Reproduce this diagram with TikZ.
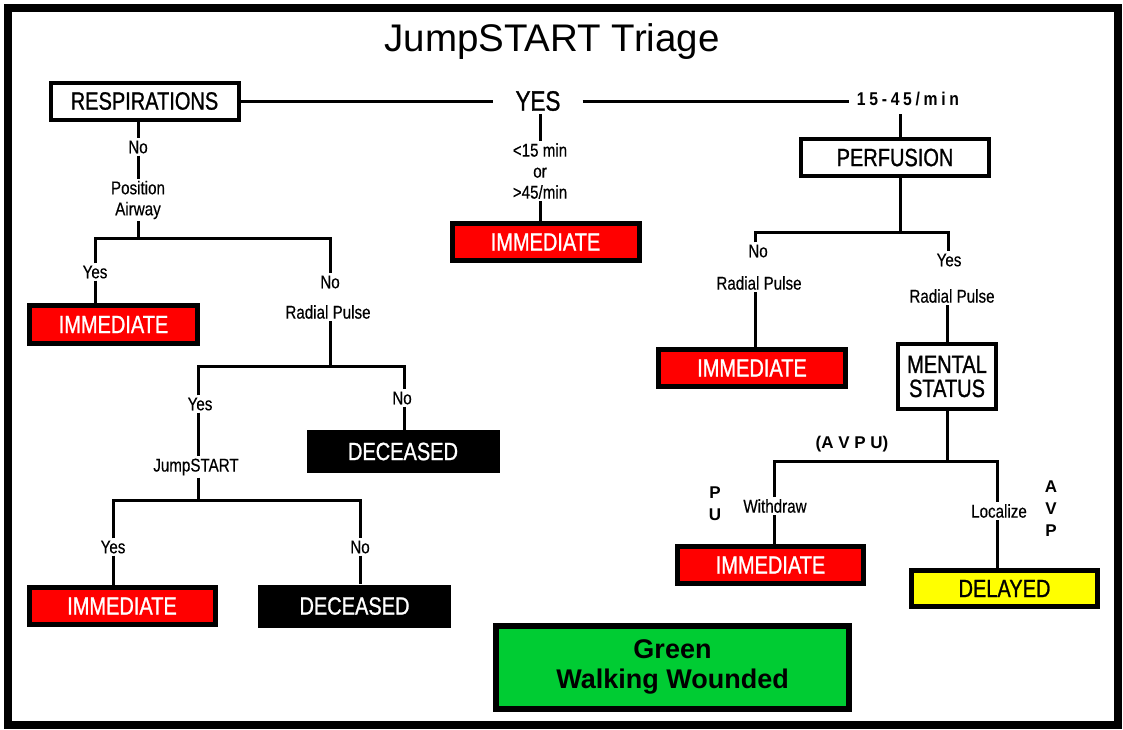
\documentclass[tikz,border=0pt]{standalone}
\usepackage{xcolor}
\usepackage{fontspec}
\usepackage{tikz}
\usetikzlibrary{positioning}
\usetikzlibrary{calc}
\setmainfont{Liberation Sans}
\newfontfamily\narrowfont[FakeStretch=0.8,FakeBold=1]{Liberation Sans}
\newfontfamily\smallfont[FakeStretch=0.82,FakeBold=0.4]{Liberation Sans}
\newfontfamily\spacedfont[FakeStretch=0.85,LetterSpace=20]{Liberation Sans}
\definecolor{immred}{RGB}{255,0,0}
\definecolor{delyellow}{RGB}{255,255,0}
\definecolor{walkgreen}{RGB}{0,204,51}
\tikzset{
	conn/.style={line width=3pt},
	lbl/.style={font=\smallfont\fontsize{18.5}{21}\selectfont, inner sep=2pt, align=center},
	bigtxt/.style={font=\narrowfont\fontsize{25}{24}\selectfont, align=center, inner sep=0pt},
	hdrbox/.style={bigtxt, draw, line width=4pt, fill=white, minimum width=188pt, minimum height=37pt},
	immbox/.style={bigtxt, draw, line width=5pt, fill=immred, text=white, minimum width=186pt, minimum height=37pt},
	deadbox/.style={bigtxt, fill=black, text=white, minimum width=193pt, minimum height=43pt},
	delaybox/.style={bigtxt, draw, line width=5pt, fill=delyellow, minimum width=186pt, minimum height=36pt},
	avpu/.style={font=\bfseries\fontsize{17}{22}\selectfont, inner sep=1pt, align=center}
}
\begin{document}
\begin{tikzpicture}[x=1pt,y=-1pt]
		\useasboundingbox (0,0) rectangle (1123,729);
		\draw[line width=8pt] (7.5,8) rectangle (1118,725);
		\node (title) at (552,42) {\fontsize{38.5}{42}\selectfont JumpSTART Triage};
		% Respirations
		\node[hdrbox] (resp) at (144.5,101) {RESPIRATIONS};
		\node[font=\narrowfont\fontsize{28}{30}\selectfont, inner xsep=22pt] (yes) at (538,101) {YES};
		\node[font=\spacedfont\bfseries\fontsize{18.5}{20}\selectfont, inner sep=8pt] (rate) at (908,99) {15-45/min};
		\draw[conn] (resp.east) -- (yes.west);
		\draw[conn] (yes.east) -- (yes.east -| rate.west);
		% Rate out of range
		\node[lbl] (range) at (540,171) {<15 min\\or\\>45/min};
		\node[immbox, minimum width=187pt] (imm1) at (545.5,242) {\raisebox{-3pt}{IMMEDIATE}};
		\draw[conn] (range.north |- yes.south) -- (range.north);
		\draw[conn] (range.south) -- (range.south |- imm1.north);
		% Perfusion
		\node[hdrbox] (perf) at (895,157.5) {PERFUSION};
		\draw[conn] (rate.south -| 900,0) -- (perf.north -| 900,0);
		\coordinate (pj) at (900,232);
		\draw[conn] (perf.south -| pj) -- (pj);
		\node[lbl] (pno) at (758,251) {No};
		\node[lbl] (prp1) at (759,283) {Radial Pulse};
		\node[lbl] (pyes) at (949,260) {Yes};
		\node[lbl] (prp2) at (952,296) {Radial Pulse};
		\draw[conn] (pno.north -| 755,0) |- (pj) -| (pyes.north -| 948,0);
		\node[immbox, minimum width=187pt] (imm2) at (752,368) {\raisebox{-3pt}{IMMEDIATE}};
		\draw[conn] (prp1.south -| 755,0) -- (imm2.north -| 755,0);
		% Mental status
		\node[hdrbox, minimum width=98pt, minimum height=65pt] (ms) at (947,376.5) {MENTAL\\STATUS};
		\draw[conn] (prp2.south -| ms.north) -- (ms.north);
		\coordinate (mj) at (947,461);
		\draw[conn] (ms.south) -- (mj);
		\node[avpu] (avpu) at (852,444) {(A V P U)};
		\node[lbl] (wd) at (775,506) {Withdraw};
		\node[lbl] (loc) at (999,511) {Localize};
		\node[avpu] (pu) at (715,504) {P\\U};
		\node[avpu] (avp) at (1051,509) {A\\V\\P};
		\draw[conn] (wd.north -| 774,0) |- (mj) -| (loc.north -| 997,0);
		\node[immbox] (imm3) at (770.5,565) {\raisebox{-3pt}{IMMEDIATE}};
		\node[delaybox] (del) at (1004.5,588.5) {\raisebox{-3pt}{DELAYED}};
		\draw[conn] (wd.south -| 774,0) -- (imm3.north -| 774,0);
		\draw[conn] (loc.south -| 997,0) -- (del.north -| 997,0);
		% No respirations
		\node[lbl] (rno) at (138,147) {No};
		\node[lbl] (pa) at (138,200) {Position\\Airway};
		\draw[conn] (rno.north |- resp.south) -- (rno.north);
		\draw[conn] (rno.south) -- (pa.north);
		\coordinate (rj) at (138,238);
		\draw[conn] (pa.south) -- (rj);
		\node[lbl] (ayes) at (95,272) {Yes};
		\node[lbl] (ano) at (330,282) {No};
		\node[lbl] (arp) at (328,312) {Radial Pulse};
		\draw[conn] (ayes.north) |- (rj) -| (ano.north);
		\node[immbox, minimum width=168pt, minimum height=38pt] (imm4) at (113.5,324.5) {\raisebox{-3pt}{IMMEDIATE}};
		\draw[conn] (ayes.south) -- (ayes.south |- imm4.north);
		% Radial pulse
		\coordinate (aj) at (330,366);
		\draw[conn] (arp.south -| aj) -- (aj);
		\node[lbl] (byes) at (200,404) {Yes};
		\node[lbl] (bno) at (402,398) {No};
		\draw[conn] (byes.north -| 198,0) |- (aj) -| (bno.north -| 404,0);
		\node[deadbox] (dec1) at (403,451.5) {\raisebox{-3pt}{DECEASED}};
		\draw[conn] (bno.south -| 404,0) -- (dec1.north -| 404,0);
		\node[lbl] (js) at (196,467) {JumpSTART};
		\draw[conn] (byes.south -| 198,0) -- (js.north -| 198,0);
		% JumpSTART
		\coordinate (jj) at (198,500);
		\draw[conn] (js.south -| jj) -- (jj);
		\node[lbl] (cyes) at (113,547) {Yes};
		\node[lbl] (cno) at (360,547) {No};
		\draw[conn] (cyes.north) |- (jj) -| (cno.north);
		\node[immbox] (imm5) at (122,606) {\raisebox{-3pt}{IMMEDIATE}};
		\node[deadbox] (dec2) at (354.5,606) {\raisebox{-3pt}{DECEASED}};
		\draw[conn] (cyes.south) -- (cyes.south |- imm5.north);
		\draw[conn] (cno.south) -- (cno.south |- dec2.north);
		% Walking wounded
		\node[draw, line width=6pt, fill=walkgreen, minimum width=353pt, minimum height=83pt, align=center,
			font=\bfseries\fontsize{27}{30}\selectfont] (walk) at (672.5,667) {Green\\Walking Wounded};
	\end{tikzpicture}
\end{document}
